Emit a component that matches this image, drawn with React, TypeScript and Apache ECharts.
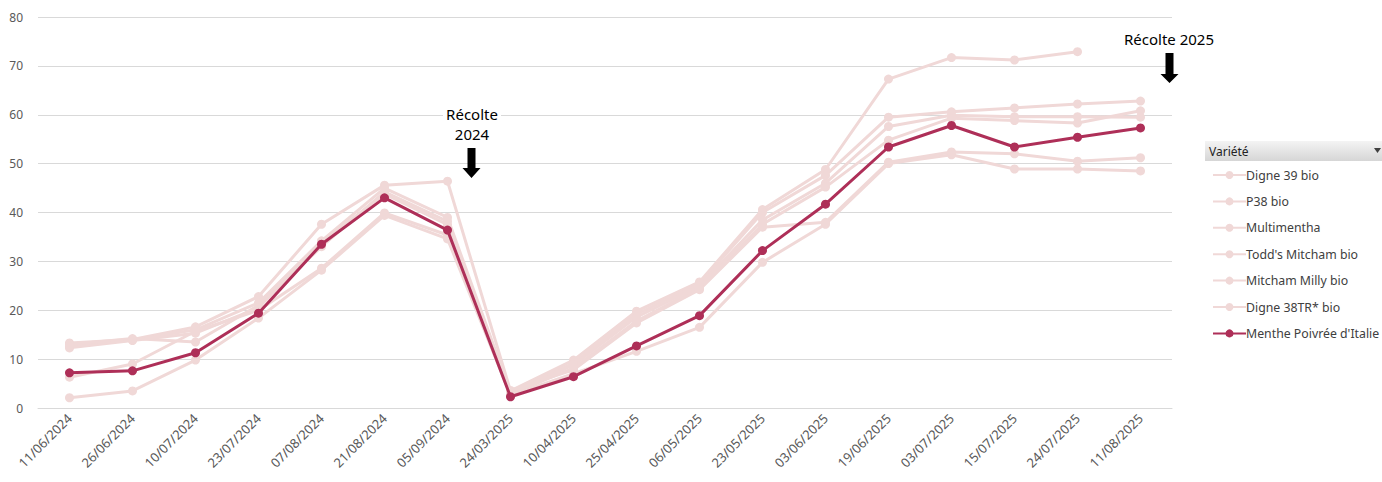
import React, { useEffect, useRef } from "react";
import * as echarts from "echarts";

const categories = [
  "11/06/2024", "26/06/2024", "10/07/2024", "23/07/2024", "07/08/2024", "21/08/2024",
  "05/09/2024", "24/03/2025", "10/04/2025", "25/04/2025", "06/05/2025", "23/05/2025",
  "03/06/2025", "19/06/2025", "03/07/2025", "15/07/2025", "24/07/2025", "11/08/2025",
];

const digne39 = [13.3, 14.0, 16.6, 22.8, 37.6, 45.6, 46.4, 3.5, 9.8, 19.8, 25.8, 40.6, 48.8, 67.3, 71.7, 71.2, 72.9, null];
const p38 = [12.6, 13.9, 16.0, 21.5, 34.2, 45.0, 39.0, 3.2, 9.2, 19.2, 25.4, 40.0, 47.6, 59.5, 60.6, 61.4, 62.2, 62.8];
const multimentha = [13.0, 14.2, 13.5, 21.0, 33.0, 44.2, 38.2, 3.0, 8.8, 18.6, 25.0, 38.5, 46.0, 57.6, 59.9, 59.6, 59.6, 59.5];
const todds = [12.3, 13.8, 15.3, 20.5, 33.8, 43.8, 37.5, 2.8, 8.2, 17.8, 24.6, 37.6, 45.2, 54.8, 59.3, 58.8, 58.3, 60.8];
const milly = [6.3, 9.0, 15.7, 20.0, 28.6, 39.9, 35.4, 3.6, 7.8, 17.4, 24.2, 37.0, 38.0, 50.3, 52.4, 52.0, 50.5, 51.2];
const digne38 = [2.1, 3.5, 9.8, 18.4, 28.2, 39.4, 34.6, 2.6, 7.0, 11.6, 16.5, 29.8, 37.6, 50.0, 51.8, 48.9, 48.9, 48.5];
const italie = [7.2, 7.6, 11.3, 19.4, 33.5, 43.0, 36.4, 2.3, 6.4, 12.7, 18.9, 32.2, 41.7, 53.4, 57.8, 53.4, 55.4, 57.3];

const seriesNames = [
  "Digne 39 bio", "P38 bio", "Multimentha", "Todd's Mitcham bio",
  "Mitcham Milly bio", "Digne 38TR* bio", "Menthe Poivrée d'Italie",
];
const seriesValues = [digne39, p38, multimentha, todds, milly, digne38, italie];

const LIGHT = "#f0d8d7";
const DARK = "#ae2f58";
const FONT = "'Noto Sans', sans-serif";

export default function App() {
  const ref = useRef<HTMLDivElement>(null);
  useEffect(() => {
    document.body.style.margin = "0";
    const chart = echarts.init(ref.current!, null, { renderer: "svg" });
    const arrow = (cx: number, y0: number, y1: number, y2: number) => ({
      type: "polygon",
      z: 100,
      shape: {
        points: [
          [cx - 4, y0], [cx + 4, y0], [cx + 4, y1], [cx + 9, y1],
          [cx, y2], [cx - 9, y1], [cx - 4, y1],
        ],
      },
      style: { fill: "#000" },
    });
    chart.setOption({
      animation: false,
      textStyle: { fontFamily: FONT },
      grid: { left: 38, right: 210, top: 17, bottom: 74 },
      xAxis: {
        type: "category",
        data: categories,
        boundaryGap: true,
        axisLine: { show: true, lineStyle: { color: "#d9d9d9", width: 1 } },
        axisTick: { show: false },
        axisLabel: { interval: 0, rotate: 45, color: "#595959", fontSize: 13, fontFamily: FONT, margin: 8 },
      },
      yAxis: {
        type: "value",
        min: 0,
        max: 80,
        interval: 10,
        axisLine: { show: false },
        axisTick: { show: false },
        splitLine: { lineStyle: { color: "#d9d9d9", width: 1 } },
        axisLabel: { color: "#595959", fontSize: 12, fontFamily: FONT, margin: 15 },
      },
      legend: {
        orient: "vertical",
        left: 1207,
        top: 164,
        itemWidth: 33,
        itemHeight: 10,
        itemGap: 14.4,
        textStyle: { color: "#404040", fontSize: 12.3, fontFamily: FONT, padding: [0, 0, 0, -5] },
        data: seriesNames,
      },
      series: seriesValues.map((vals, i) => {
        const main = i === seriesValues.length - 1;
        return {
          name: seriesNames[i],
          type: "line",
          data: vals,
          symbol: "circle",
          symbolSize: 9,
          z: main ? 5 : 2,
          connectNulls: false,
          lineStyle: { color: main ? DARK : LIGHT, width: 3 },
          itemStyle: { color: main ? DARK : LIGHT },
        };
      }),
      graphic: [
        {
          type: "rect",
          z: 100,
          shape: { x: 1205, y: 141, width: 177, height: 20 },
          style: {
            fill: new echarts.graphic.LinearGradient(0, 0, 0, 1, [
              { offset: 0, color: "#f4f4f4" },
              { offset: 1, color: "#d6d6d6" },
            ]),
          },
        },
        {
          type: "text",
          z: 101,
          x: 1209,
          y: 151,
          style: { text: "Variété", fontSize: 12, fontFamily: FONT, fill: "#222", verticalAlign: "middle" },
        },
        {
          type: "polygon",
          z: 101,
          shape: { points: [[1374, 148], [1381, 148], [1377.5, 153]] },
          style: { fill: "#404040" },
        },
        {
          type: "rect",
          z: 100,
          shape: { x: 443, y: 105, width: 58, height: 40 },
          style: { fill: "#ffffff" },
        },
        {
          type: "text",
          z: 101,
          x: 472,
          y: 104,
          style: {
            text: "Récolte\n2024",
            fontSize: 15,
            lineHeight: 20,
            fontFamily: FONT,
            fill: "#000",
            align: "center",
          },
        },
        arrow(471.5, 148, 168, 178),
        {
          type: "text",
          z: 101,
          x: 1169,
          y: 29,
          style: { text: "Récolte 2025", fontSize: 15, lineHeight: 20, fontFamily: FONT, fill: "#000", align: "center" },
        },
        arrow(1169.5, 53, 74, 83),
      ],
    });
    return () => chart.dispose();
  }, []);
  return <div ref={ref} style={{ width: 1382, height: 482 }} />;
}
